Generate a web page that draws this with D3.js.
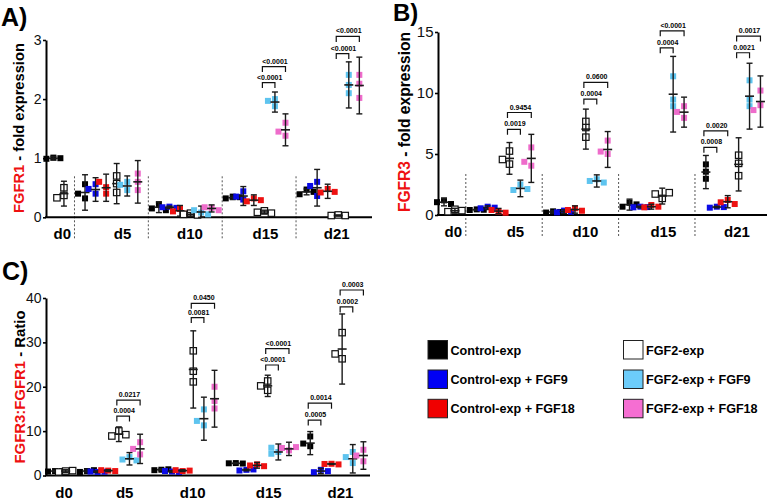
<!DOCTYPE html>
<html><head><meta charset="utf-8">
<script src="https://cdn.jsdelivr.net/npm/d3@7"></script>
<style>body{margin:0;background:#fff}svg{display:block;font-family:Arial,"Liberation Sans",Helvetica,sans-serif}.plab{opacity:0.99}</style>
</head><body><svg id="c" width="768" height="499"></svg>
<script>
// ---------------- DATA ----------------
const days = ["d0", "d5", "d10", "d15", "d21"];
const groups = ["Control-exp", "Control-exp + FGF9", "Control-exp + FGF18", "FGF2-exp", "FGF2-exp + FGF9", "FGF2-exp + FGF18"];
const d0Groups = [0, 3];

// FGFR1 fold expression: replicates [day][group]
const fgfr1Points = [
  [[1.01, 0.99, 1.0], null, null, [0.5, 0.37, 0.33], null, null],
  [[0.32, 0.4, 0.56], [0.4, 0.48, 0.56], [0.4, 0.51, 0.6], [0.42, 0.57, 0.7], [0.46, 0.55, 0.6], [0.46, 0.6, 0.74]],
  [[0.22, 0.15, 0.12], [0.18, 0.17, 0.16], [0.14, 0.1, 0.06], [0.07, 0.05, 0.04], [0.08, 0.12, 0.05], [0.16, 0.17, 0.12]],
  [[0.35, 0.32, 0.34], [0.3, 0.35, 0.44], [0.32, 0.27, 0.29], [0.11, 0.085, 0.07], [1.88, 2.0, 1.97], [1.38, 1.45, 1.6]],
  [[0.47, 0.39, 0.43], [0.6, 0.53, 0.36], [0.48, 0.42, 0.43], [0.04, 0.03, 0.03], [2.1, 2.41, 2.24], [2.41, 2.26, 2.02]]
];
const fgfr1Mean = [
  [1.0, null, null, 0.4, null, null],
  [0.42, 0.47, 0.5, 0.57, 0.53, 0.6],
  [0.17, 0.17, 0.11, 0.05, 0.09, 0.15],
  [0.33, 0.36, 0.29, 0.09, 1.95, 1.48],
  [0.43, 0.5, 0.44, 0.03, 2.24, 2.23]
];
const fgfr1Err = [
  [0.03, null, null, 0.21, null, null],
  [0.3, 0.2, 0.23, 0.34, 0.17, 0.36],
  [0.09, 0.02, 0.09, 0.03, 0.1, 0.06],
  [0.03, 0.16, 0.09, 0.03, 0.17, 0.27],
  [0.05, 0.31, 0.12, 0.01, 0.39, 0.48]
];
const fgfr1Brackets = [
  [3, 3, 4, 2.28, "<0.0001"], [3, 3, 5, 2.55, "<0.0001"],
  [4, 3, 4, 2.77, "<0.0001"], [4, 3, 5, 3.06, "<0.0001"]
];

// FGFR3 fold expression
const fgfr3Points = [
  [[1.2, 1.05, 0.9], null, null, [0.47, 0.27, 0.36], null, null],
  [[0.46, 0.41, 0.43], [0.68, 0.55, 0.6], [0.27, 0.41, 0.19], [4.17, 4.55, 5.24], [2.5, 2.05, 2.13], [4.04, 4.36, 5.54]],
  [[0.3, 0.2, 0.25], [0.36, 0.22, 0.27], [0.55, 0.41, 0.35], [7.67, 7.17, 6.38], [2.93, 2.79, 2.66], [6.1, 5.0, 5.2]],
  [[1.0, 0.68, 0.87], [0.68, 0.63, 0.65], [0.82, 0.63, 0.68], [1.36, 1.72, 1.83], [11.37, 9.46, 8.92], [7.96, 8.45, 8.92]],
  [[4.15, 3.55, 2.97], [0.68, 0.6, 0.65], [1.23, 1.04, 0.9], [4.9, 4.23, 3.22], [11.04, 9.46, 8.92], [10.2, 9.0, 8.6]]
];
const fgfr3Mean = [
  [1.05, null, null, 0.35, null, null],
  [0.43, 0.6, 0.32, 4.64, 2.18, 4.64],
  [0.25, 0.28, 0.45, 7.04, 2.79, 5.37],
  [0.85, 0.65, 0.68, 1.55, 9.9, 8.43],
  [3.52, 0.65, 1.09, 4.15, 9.74, 9.3]
];
const fgfr3Err = [
  [0.3, null, null, 0.2, null, null],
  [0.05, 0.15, 0.22, 1.3, 0.68, 1.97],
  [0.1, 0.15, 0.3, 1.64, 0.5, 1.47],
  [0.45, 0.07, 0.2, 0.65, 3.1, 1.23],
  [1.36, 0.06, 0.5, 2.18, 2.7, 2.1]
];
const fgfr3Brackets = [
  [1, 3, 4, 7.02, "0.0019"], [1, 3, 5, 8.4, "0.9454"],
  [2, 3, 4, 9.5, "0.0004"], [2, 3, 5, 10.87, "0.0600"],
  [3, 3, 4, 13.7, "0.0004"], [3, 3, 5, 15.1, "<0.0001"],
  [4, 0, 1, 5.55, "0.0008"], [4, 0, 2, 6.9, "0.0020"],
  [4, 3, 4, 13.3, "0.0021"], [4, 3, 5, 14.67, "0.0017"]
];

// FGFR3:FGFR1 ratio
const ratioPoints = [
  [[1.0, 0.9, 1.0], null, null, [1.0, 0.8, 1.1], null, null],
  [[1.0, 0.8, 1.2], [0.8, 0.9, 0.85], [1.1, 1.2, 1.0], [10.04, 8.9, 9.2], [4.15, 3.6, 3.4], [4.75, 6.0, 7.5]],
  [[1.3, 1.2, 1.4], [0.9, 1.0, 0.8], [1.0, 1.2, 1.1], [28.1, 23.5, 21.1], [11.3, 12.3, 14.9], [20.0, 16.8, 15.1]],
  [[2.8, 2.75, 2.7], [1.28, 1.13, 1.36], [2.5, 2.26, 2.1], [19.2, 20.2, 21.3], [5.3, 4.9, 6.26], [5.66, 6.2, 6.4]],
  [[6.6, 7.2, 8.8], [1.28, 0.75, 0.98], [2.64, 2.6, 2.5], [26.3, 27.4, 32.2], [2.8, 4.15, 5.3], [3.2, 4.5, 5.8]]
];
const ratioMean = [
  [1.0, null, null, 1.0, null, null],
  [1.0, 0.85, 1.1, 9.3, 3.77, 6.0],
  [1.3, 0.9, 1.1, 23.9, 12.8, 17.3],
  [2.75, 1.25, 2.3, 20.2, 5.3, 6.0],
  [7.3, 1.0, 2.6, 28.5, 3.77, 4.5]
];
const ratioErr = [
  [0.2, null, null, 0.3, null, null],
  [0.4, 0.2, 0.2, 1.65, 1.4, 3.3],
  [0.2, 0.2, 0.2, 8.7, 4.85, 6.4],
  [0.1, 0.2, 0.65, 2.4, 1.8, 1.5],
  [2.6, 0.6, 0.1, 7.9, 3.2, 3.1]
];
const ratioBrackets = [
  [1, 3, 4, 13.4, "0.0004"], [1, 3, 5, 17.0, "0.0217"],
  [2, 3, 4, 35.6, "0.0081"], [2, 3, 5, 38.8, "0.0450"],
  [3, 3, 4, 24.9, "<0.0001"], [3, 3, 5, 28.6, "<0.0001"],
  [4, 0, 1, 12.5, "0.0005"], [4, 0, 2, 16.3, "0.0014"],
  [4, 3, 4, 38.0, "0.0002"], [4, 3, 5, 41.8, "0.0003"]
];

const fgfr1Ticks = [0, 1, 2, 3];
const fgfr3Ticks = [0, 5, 10, 15];
const ratioTicks = [0, 10, 20, 30, 40];

// ---------------- STYLE ----------------
const groupColors = ["#000000", "#0b0be6", "#ee1111", "#ffffff", "#5ec4ef", "#ee6ccb"];
const legendColors = ["#000000", "#0000f5", "#f00000", "#ffffff", "#6cccfa", "#f56ed2"];
const labelShift = [0.35, 1.05, 0.45, 0.6, 0.35];

const svg = d3.select("#c");
svg.append("rect").attr("width", 768).attr("height", 499).attr("fill", "#fff");

function slotOf(day, grp) {
  if (day === 0) return d0Groups.indexOf(grp);
  return 3 + (day - 1) * 7 + grp;
}

function drawPanel(cfg) {
  const g = svg.append("g");
  const y = d3.scaleLinear().domain([0, cfg.yMax]).range([cfg.yBottom, cfg.yTop]);
  const x = d3.scaleLinear().domain(cfg.slotDomain).range([cfg.x0, cfg.x1]);

  // title
  g.append("text").attr("x", cfg.titleX).attr("y", cfg.titleY)
    .attr("font-size", cfg.titleFont).attr("font-weight", "bold").text(cfg.title);

  // dividers
  if (cfg.dividers) {
    [2, 9, 16, 23].forEach(s => {
      g.append("line").attr("x1", x(s)).attr("x2", x(s))
        .attr("y1", cfg.yBottom - 41).attr("y2", cfg.yBottom + 23)
        .attr("stroke", "#555").attr("stroke-width", 1).attr("stroke-dasharray", "2,2");
    });
  }

  // y axis
  const ax = g.append("g").attr("transform", `translate(${cfg.x0},0)`)
    .call(d3.axisLeft(y).tickValues(cfg.ticks).tickSize(3).tickSizeOuter(0).tickPadding(1.5).tickFormat(d3.format("d")));
  ax.attr("font-family", null).attr("font-size", cfg.tickFont);
  ax.select(".domain").attr("stroke", "#000").attr("stroke-width", 2);
  ax.selectAll(".tick line").attr("stroke", "#000").attr("stroke-width", 1.6);
  ax.selectAll(".tick text").attr("fill", "#111");

  // x axis line
  g.append("line").attr("x1", cfg.x0 - 1).attr("x2", cfg.x1)
    .attr("y1", cfg.yBottom).attr("y2", cfg.yBottom)
    .attr("stroke", "#000").attr("stroke-width", 2);

  // category labels
  days.forEach((d, i) => {
    const center = i === 0 ? 0.5 : 3 + (i - 1) * 7 + 2.5;
    g.append("text").attr("x", x(center + labelShift[i])).attr("y", cfg.yBottom + 22)
      .attr("text-anchor", "middle").attr("font-size", 15).attr("font-weight", "bold").text(d);
  });

  // y label
  const yl = g.append("text").attr("transform", `translate(${cfg.labelX},${cfg.labelY}) rotate(-90)`)
    .attr("text-anchor", "middle").attr("font-size", cfg.labelFont).attr("font-weight", "bold");
  yl.append("tspan").attr("fill", "#ee1111").text(cfg.labelRed);
  yl.append("tspan").attr("fill", "#000").text(cfg.labelRest);

  // points
  const ms = 6;
  cfg.points.forEach((row, di) => {
    row.forEach((pts, gi) => {
      if (!pts) return;
      const cx = x(slotOf(di, gi));
      const placed = [];
      pts.forEach(v => {
        const py = y(v);
        const cands = [0, -4, 4, -7, 7];
        let off = cands[cands.length - 1];
        for (const c of cands) {
          if (!placed.some(p => Math.abs(p[0] - c) < 6 && Math.abs(p[1] - py) < 6)) { off = c; break; }
        }
        placed.push([off, py]);
        if (gi === 3) {
          g.append("rect").attr("x", cx + off - 3.2).attr("y", py - 3.2).attr("width", 6.4).attr("height", 6.4)
            .attr("fill", "#fff").attr("stroke", "#111").attr("stroke-width", 1.2);
        } else {
          g.append("rect").attr("x", cx + off - ms / 2).attr("y", py - ms / 2).attr("width", ms).attr("height", ms)
            .attr("fill", groupColors[gi]);
        }
      });
      // error bar + mean
      const m = cfg.mean[di][gi], e = cfg.err[di][gi];
      const col = "#1a1a1a";
      g.append("line").attr("x1", cx).attr("x2", cx).attr("y1", y(m + e)).attr("y2", y(Math.max(0, m - e)))
        .attr("stroke", col).attr("stroke-width", 1.4);
      [m + e, Math.max(0, m - e)].forEach(v => {
        g.append("line").attr("x1", cx - 3).attr("x2", cx + 3).attr("y1", y(v)).attr("y2", y(v))
          .attr("stroke", col).attr("stroke-width", 1.4);
      });
      g.append("line").attr("x1", cx - 4.5).attr("x2", cx + 4.5).attr("y1", y(m)).attr("y2", y(m))
        .attr("stroke", col).attr("stroke-width", 1.6);
    });
  });

  // brackets
  const bl = g.append("g").attr("class", "plab");
  cfg.brackets.forEach(b => {
    const [di, ga, gb, lv, lab] = b;
    const xa = x(slotOf(di, ga)) - 2, xb = x(slotOf(di, gb));
    const by = y(lv);
    g.append("path").attr("d", `M${xa},${by + 5.5}V${by}H${xb}V${by + 5.5}`)
      .attr("fill", "none").attr("stroke", "#111").attr("stroke-width", 1.2);
    bl.append("text").attr("x", (xa + xb) / 2 + 1).attr("y", by - 3).attr("fill", "#000")
      .attr("text-anchor", "middle").attr("font-size", 7).attr("font-weight", "bold").text(lab);
  });
}

drawPanel({
  title: "A)", titleX: 1, titleY: 26, titleFont: 25,
  x0: 46, x1: 372, slotDomain: [-0.7, 30.2],
  yMax: 3, yTop: 40, yBottom: 217.3, ticks: fgfr1Ticks, tickFont: 14,
  dividers: true,
  labelX: 24, labelY: 128, labelFont: 14.7, labelRed: "FGFR1", labelRest: " - fold expression",
  points: fgfr1Points, mean: fgfr1Mean, err: fgfr1Err, brackets: fgfr1Brackets
});
drawPanel({
  title: "B)", titleX: 393, titleY: 21, titleFont: 24,
  x0: 438, x1: 767, slotDomain: [-0.55, 29.6],
  yMax: 15, yTop: 32, yBottom: 215, ticks: fgfr3Ticks, tickFont: 15,
  dividers: true,
  labelX: 409.5, labelY: 122, labelFont: 15.6, labelRed: "FGFR3", labelRest: " - fold expression",
  points: fgfr3Points, mean: fgfr3Mean, err: fgfr3Err, brackets: fgfr3Brackets
});
drawPanel({
  title: "C)", titleX: 2, titleY: 280, titleFont: 25,
  x0: 46, x1: 370, slotDomain: [-0.85, 29.62],
  yMax: 40, yTop: 298, yBottom: 475.5, ticks: ratioTicks, tickFont: 14,
  dividers: false,
  labelX: 24.5, labelY: 387, labelFont: 14.9, labelRed: "FGFR3:FGFR1", labelRest: " - Ratio",
  points: ratioPoints, mean: ratioMean, err: ratioErr, brackets: ratioBrackets
});

// legend
const legCols = [428, 623.5];
const legRows = [340.5, 370, 399.3];
const leg = svg.append("g");
groups.forEach((name, i) => {
  const cx = legCols[Math.floor(i / 3)], ry = legRows[i % 3];
  leg.append("rect").attr("x", cx).attr("y", ry).attr("width", 19.5).attr("height", 18.5)
    .attr("fill", legendColors[i]).attr("stroke", "#222").attr("stroke-width", 1);
  leg.append("text").attr("x", cx + 22.5).attr("y", ry + 14)
    .attr("font-size", 12.6).attr("font-weight", "bold").text(name);
});
</script>
</body></html>
